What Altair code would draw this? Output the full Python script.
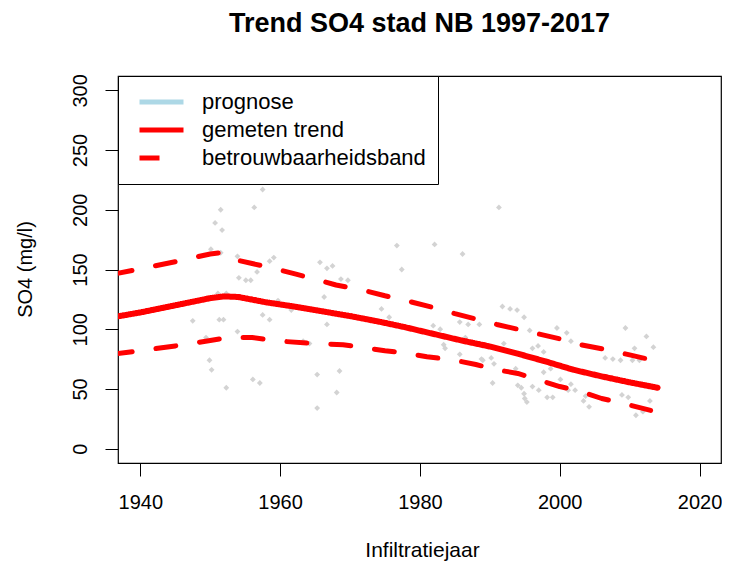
import altair as alt
import pandas as pd

# ---------------- data ----------------
series_names = ["prognose", "gemeten trend", "betrouwbaarheidsband"]
series_colors = ["#ADD8E6", "#FF0000", "#FF0000"]

x_ticks = [1940, 1960, 1980, 2000, 2020]
y_ticks = [0, 50, 100, 150, 200, 250, 300]

obs_year = [1947.5, 1949.4, 1949.9, 1950.2, 1950.1, 1950.7, 1951.1, 1951.3, 1951.5, 1951.5,
            1951.7, 1951.9, 1952.3, 1952.3, 1953.9, 1953.9, 1954.1, 1955.1, 1955.8, 1956.1,
            1956.3, 1956.7, 1957.1, 1957.5, 1957.5, 1958.5, 1958.5, 1959.1, 1959.7, 1961.6,
            1963.3, 1964.2, 1965.3, 1965.3, 1965.7, 1966.3, 1966.7, 1966.7, 1967.5, 1968.1,
            1968.5, 1968.7, 1969.7, 1974.5, 1975.6, 1976.7, 1977.4, 1981.9, 1982.1, 1982.9,
            1983.4, 1983.6, 1985.7, 1985.7, 1986.1, 1986.5, 1986.9, 1988.5, 1988.8, 1989.0,
            1990.2, 1990.6, 1990.4, 1991.3, 1991.8, 1992.0, 1992.9, 1993.7, 1993.9, 1994.0,
            1994.5, 1994.9, 1994.9, 1995.0, 1995.3, 1995.7, 1996.1, 1996.1, 1996.9, 1997.0,
            1997.7, 1997.7, 1998.2, 1998.7, 1999.0, 1999.6, 2000.1, 2001.0, 2001.2, 2001.6,
            2001.6, 2002.2, 2003.4, 2003.7, 2004.2, 2006.5, 2007.6, 2008.7, 2008.9, 2009.4,
            2009.8, 2010.4, 2010.7, 2010.9, 2011.4, 2011.9, 2012.4, 2012.9, 2013.4]
obs_so4 = [107, 93, 74, 66, 167, 189, 130, 108, 200, 164,
           183, 108, 130, 51, 161, 98, 143, 141, 141, 58,
           202, 148, 55, 217, 112, 157, 108, 160, 124, 116,
           90, 88, 62, 34, 156, 127, 151, 104, 153, 47,
           65, 142, 141, 117, 110, 170, 150, 103, 171, 100,
           87, 84, 106, 79, 163, 93, 104, 104, 75, 74,
           76, 71, 55, 202, 119, 88, 117, 67, 116, 53,
           51, 110, 46, 42, 39, 99, 84, 52, 86, 49,
           81, 64, 43, 67, 43, 101, 58, 97, 49, 90,
           54, 49, 40, 44, 35, 76, 75, 74, 45, 101,
           43, 74, 84, 28, 74, 31, 94, 40, 85]

trend_year = [1936, 1940, 1945, 1950, 1952, 1954, 1958, 1962, 1966, 1970, 1974,
              1978, 1982, 1986, 1990, 1994, 1998, 2002, 2006, 2010, 2014]
trend_so4 = [110, 114, 120, 126, 127.5, 127, 122.5, 119, 115, 111, 106.5,
             101.5, 96, 90.5, 85.5, 79.5, 73, 66, 60.5, 55.5, 51]

upper_year = [1936, 1940, 1945, 1950, 1951.5, 1953, 1956, 1959, 1962, 1965, 1968, 1972,
              1975, 1978, 1982, 1985, 1988, 1991, 1994, 1997, 2000, 2003, 2007, 2010, 2013]
upper_so4 = [146, 150.5, 156.5, 163, 164, 159, 155, 151, 146.5, 142, 137, 132.5,
             128, 124, 118, 113, 108.5, 104, 100, 96, 92, 87, 82.5, 78.5, 74.5]

lower_year = [1936, 1940, 1945, 1950, 1952.5, 1956, 1960, 1965, 1969, 1972, 1975, 1978,
              1981, 1985, 1988, 1991, 1994, 1997, 2000, 2003, 2006, 2009, 2013]
lower_so4 = [79, 82, 86, 90.5, 93, 93, 90, 88, 87, 84.5, 82, 80,
             77, 74, 70.5, 66, 63, 57.5, 52, 48, 42, 38, 32]

# ---------------- tables ----------------
obs_df = pd.DataFrame({"jaar": obs_year, "so4": obs_so4})
trend_df = pd.DataFrame({"jaar": trend_year, "so4": trend_so4,
                         "serie": "gemeten trend", "deel": "trend"})
band_df = pd.concat([
    pd.DataFrame({"jaar": upper_year, "so4": upper_so4,
                  "serie": "betrouwbaarheidsband", "deel": "boven"}),
    pd.DataFrame({"jaar": lower_year, "so4": lower_so4,
                  "serie": "betrouwbaarheidsband", "deel": "onder"}),
], ignore_index=True)

FONT = "Liberation Sans"

x_enc = alt.X("jaar:Q",
              scale=alt.Scale(domain=[1936.81, 2023.07], nice=False, zero=False),
              axis=alt.Axis(values=x_ticks, format="d", title="Infiltratiejaar",
                            grid=False, domain=False, ticks=True, tickSize=13,
                            tickColor="black", labelFontSize=20, labelPadding=16,
                            labelColor="black", labelFont=FONT,
                            titleFont=FONT, titleFontSize=21, titleFontWeight="normal",
                            titleColor="black", titleX=304, titleY=87,
                            titleBaseline="middle", titleAlign="center"))
y_enc = alt.Y("so4:Q",
              scale=alt.Scale(domain=[-12, 312], nice=False, zero=False),
              axis=alt.Axis(values=y_ticks, format="d", title="SO4 (mg/l)",
                            grid=False, domain=False, ticks=True, tickSize=13,
                            tickColor="black", labelFontSize=20, labelPadding=15,
                            labelColor="black", labelFont=FONT, labelAngle=270,
                            labelAlign="center", labelBaseline="bottom",
                            titleFont=FONT, titleFontSize=20, titleFontWeight="normal",
                            titleColor="black", titleAngle=270, titleX=-93, titleY=193,
                            titleBaseline="middle", titleAlign="center"))

legend = alt.Legend(orient="none", legendX=0, legendY=0, symbolType="stroke",
                    symbolSize=1936, symbolStrokeWidth=5, labelFontSize=22,
                    labelFont=FONT, labelColor="black", labelOffset=16, labelLimit=400,
                    fillColor="white", strokeColor="black", padding=12,
                    symbolOffset=7, rowPadding=0, clipHeight=28)

color_enc = alt.Color("serie:N", title=None,
                      scale=alt.Scale(domain=series_names, range=series_colors),
                      legend=legend)
dash_enc = alt.StrokeDash("serie:N", title=None,
                          scale=alt.Scale(domain=series_names,
                                          range=[[1, 0], [1, 0], [20, 24]]),
                          legend=legend)

points = alt.Chart(obs_df).mark_point(shape="diamond", filled=True, size=34,
                                      color="#D3D3D3", opacity=1).encode(x=x_enc, y=y_enc)

trend = alt.Chart(trend_df).mark_line(strokeWidth=6, strokeCap="round",
                                      strokeJoin="round", clip=True).encode(
    x=x_enc, y=y_enc, color=color_enc, strokeDash=dash_enc, detail="deel:N")

band = alt.Chart(band_df).mark_line(strokeWidth=5, strokeCap="round",
                                    strokeJoin="round", clip=True).encode(
    x=x_enc, y=y_enc, color=color_enc, strokeDash=dash_enc, detail="deel:N")

chart = alt.layer(points, band, trend).properties(
    width=603, height=387,
    padding={"left": 110, "top": 68, "right": 1, "bottom": 101},
    autosize=alt.AutoSizeParams(type="none"),
    background="white",
    title=alt.TitleParams("Trend SO4 stad NB 1997-2017", font=FONT, fontSize=27,
                          fontWeight="bold", color="black", anchor="middle", offset=36),
).configure_view(stroke="black", strokeWidth=1.2)

chart.save("out.html", embed_options={"renderer": "svg", "actions": False})
